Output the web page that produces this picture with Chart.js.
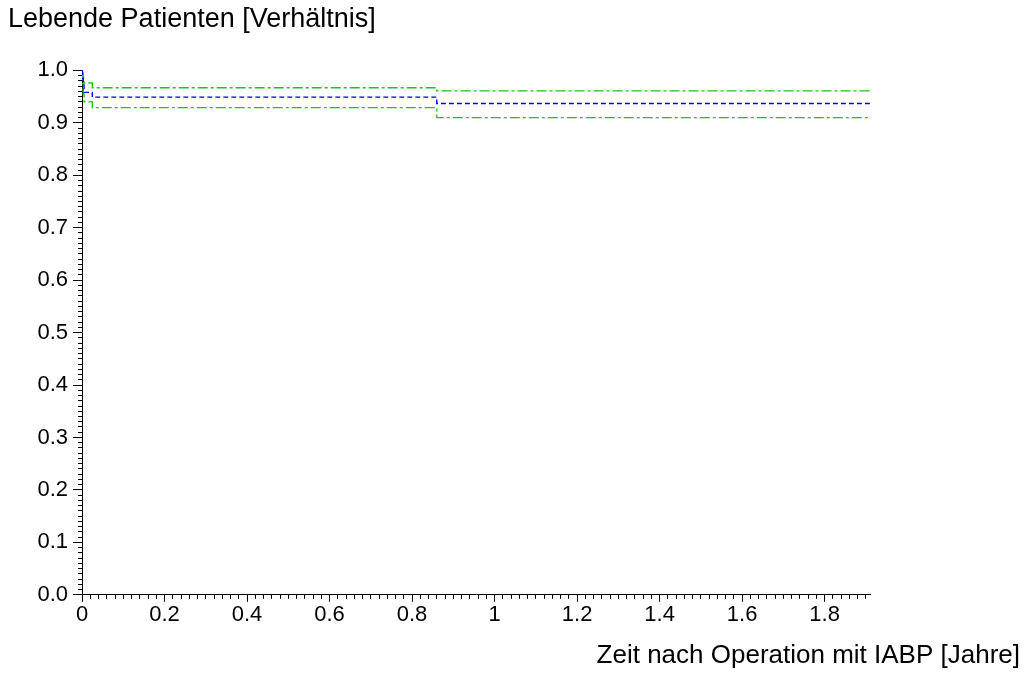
<!DOCTYPE html>
<html><head><meta charset="utf-8">
<script src="https://cdn.jsdelivr.net/npm/chart.js@4.4.1/dist/chart.umd.min.js"></script>
<style>html,body{margin:0;padding:0;background:#fff}#wrap{width:1032px;height:695px;position:relative}</style>
</head><body><div id="wrap"><canvas id="c"></canvas></div>
<script>
const yTitle = 'Lebende Patienten [Verhältnis]';
const xTitle = 'Zeit nach Operation mit IABP [Jahre]';
const times    = [0, 0.001, 0.003, 0.005, 0.025, 0.86, 1.91];
const survival = [1.0, 0.985, 0.975, 0.958, 0.949, 0.937, 0.937];
const upperCI  = [1.0, 0.995, 0.985, 0.976, 0.967, 0.961, 0.961];
const lowerCI  = [1.0, 0.975, 0.955, 0.940, 0.929, 0.910, 0.910];
const xMajorTicks = [0, 0.2, 0.4, 0.6, 0.8, 1.0, 1.2, 1.4, 1.6, 1.8];
const yMajorTicks = [0, 0.1, 0.2, 0.3, 0.4, 0.5, 0.6, 0.7, 0.8, 0.9, 1.0];
const xRange = [0, 1.91];
const yRange = [0, 1];

const xMinorTicks = [];
for (let i = 0; i <= 95; i++) xMinorTicks.push(+(i * 0.02).toFixed(2));
const yMinorTicks = [];
for (let i = 0; i <= 100; i++) yMinorTicks.push(+(i * 0.01).toFixed(2));

const pts = (ys) => times.map((t, i) => ({x: t, y: ys[i]}));
const FONT = 'Liberation Sans, Arial, sans-serif';
const GREEN = '#14c814', BLUE = '#0000ff';

const setTicks = (arr) => (axis) => { axis.ticks = arr.map(v => ({value: v})); };

new Chart(document.getElementById('c'), {
  type: 'line',
  data: {
    datasets: [
      {data: pts(survival), borderColor: BLUE, borderWidth: 1.4, borderDash: [5, 3], stepped: true, pointRadius: 0, fill: false},
      {data: pts(upperCI), borderColor: GREEN, borderWidth: 1.4, borderDash: [10, 3, 3, 3], stepped: true, pointRadius: 0, fill: false},
      {data: pts(lowerCI), borderColor: GREEN, borderWidth: 1.4, borderDash: [10, 3, 3, 3], stepped: true, pointRadius: 0, fill: false}
    ]
  },
  options: {
    responsive: true, maintainAspectRatio: false, animation: false,
    layout: {padding: {left: 8, right: 12, top: 0, bottom: 0}},
    plugins: {
      legend: {display: false}, tooltip: {enabled: false},
      title: {display: true, text: yTitle, align: 'start', color: '#000',
        font: {family: FONT, size: 27, weight: 'normal'}, padding: {top: 3, bottom: 35}},
      subtitle: {display: true, text: xTitle, align: 'end', position: 'bottom', color: '#000',
        font: {family: FONT, size: 26, weight: 'normal'}, padding: {top: 5, bottom: 24}}
    },
    scales: {
      x: {type: 'linear', position: 'bottom', weight: 1, min: xRange[0], max: xRange[1],
        afterBuildTicks: setTicks(xMajorTicks),
        afterFit: (s) => { s.height = 40; },
        grid: {drawOnChartArea: false, drawTicks: true, tickLength: 7, tickColor: '#000', color: '#000'},
        border: {display: true, color: '#000', width: 1},
        ticks: {autoSkip: false, maxRotation: 0, color: '#000', padding: 0, font: {family: FONT, size: 22},
          callback: (v) => String(+(+v).toFixed(1))}
      },
      xMinor: {type: 'linear', axis: 'x', position: 'bottom', weight: 0, min: xRange[0], max: xRange[1],
        afterBuildTicks: setTicks(xMinorTicks),
        afterFit: (s) => { s.height = 0; },
        grid: {drawOnChartArea: false, drawTicks: true, tickLength: 4, tickColor: '#000'},
        border: {display: false},
        ticks: {display: false}
      },
      y: {type: 'linear', position: 'left', weight: 1, min: yRange[0], max: yRange[1],
        afterBuildTicks: setTicks(yMajorTicks),
        afterFit: (s) => { s.width = 74; },
        grid: {drawOnChartArea: false, drawTicks: true, tickLength: 9, tickColor: '#000'},
        border: {display: true, color: '#000', width: 1},
        ticks: {autoSkip: false, color: '#000', padding: 5, font: {family: FONT, size: 22},
          callback: (v) => (+v).toFixed(1)}
      },
      yMinor: {type: 'linear', axis: 'y', position: 'left', weight: 0, min: yRange[0], max: yRange[1],
        afterBuildTicks: setTicks(yMinorTicks),
        afterFit: (s) => { s.width = 0; },
        grid: {drawOnChartArea: false, drawTicks: true, tickLength: 4, tickColor: '#000'},
        border: {display: false},
        ticks: {display: false}
      },
      yRight: {type: 'linear', axis: 'y', position: 'right', display: true, min: 0, max: 1,
        afterFit: (s) => { s.width = 150; },
        grid: {display: false, drawTicks: false}, border: {display: false}, ticks: {display: false}
      }
    }
  }
});
</script></body></html>
